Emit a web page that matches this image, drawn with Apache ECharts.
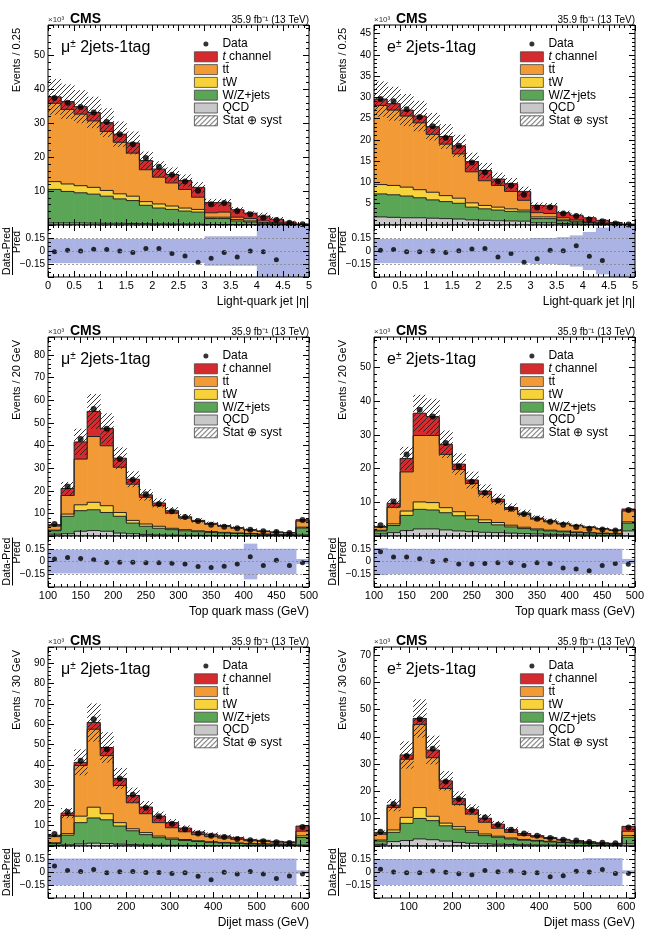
<!DOCTYPE html>
<html>
<head>
<meta charset="utf-8">
<script src="https://cdn.jsdelivr.net/npm/echarts@6/dist/echarts.min.js"></script>
<style>
  html, body { margin: 0; padding: 0; background: #fff; }
  #chart { width: 647px; height: 931px; }
</style>
</head>
<body>
<div id="chart"></div>
<script>
// bin edges
const etaEdges = [0, 0.25, 0.5, 0.75, 1, 1.25, 1.5, 1.75, 2, 2.25, 2.5, 2.75, 3, 3.25, 3.5, 3.75, 4, 4.25, 4.5, 4.75, 5];
const topEdges = [100, 120, 140, 160, 180, 200, 220, 240, 260, 280, 300, 320, 340, 360, 380, 400, 420, 440, 460, 480, 500];
const mjjEdges = [20, 50, 80, 110, 140, 170, 200, 230, 260, 290, 320, 350, 380, 410, 440, 470, 500, 530, 560, 590, 620];

// mu, light-quark jet |eta|  (x10^3 events)
const muEtaQCD = [0.6, 0.6, 0.6, 0.55, 0.5, 0.5, 0.45, 0.4, 0.35, 0.3, 0.3, 0.25, 0.15, 0.15, 0.1, 0.05, 0.05, 0.02, 0.01, 0];
const muEtaWZ = [9.9, 9.3, 8.9, 8.55, 8.0, 7.2, 6.75, 5.4, 4.65, 4.3, 3.8, 3.55, 1.75, 1.75, 1.1, 0.85, 0.45, 0.28, 0.14, 0.05];
const muEtaTW = [2.3, 2.2, 2.1, 2.0, 1.7, 1.5, 1.3, 1.1, 1.2, 1.0, 0.9, 0.8, 0.4, 0.4, 0.4, 0.3, 0.2, 0.1, 0.05, 0.02];
const muEtaTT = [23.1, 22.0, 21.1, 19.6, 17.4, 15.2, 12.7, 9.4, 7.9, 6.8, 5.5, 3.6, 1.3, 1.5, 0.7, 0.7, 0.5, 0.3, 0.2, 0.08];
const muEtaTch = [1.9, 2.3, 2.2, 2.5, 2.6, 2.4, 3.0, 2.7, 2.4, 2.5, 2.6, 2.9, 3.0, 2.8, 2.2, 1.6, 1.4, 1.0, 0.5, 0.15];
const muEtaData = [37.5, 36.1, 34.8, 33.2, 30.4, 26.8, 23.8, 19.8, 17.2, 14.8, 12.8, 10.1, 6.1, 6.5, 4.1, 3.2, 2.2, 1.5, 0.7, 0.2];
const muEtaUnc = [0.14, 0.14, 0.14, 0.14, 0.14, 0.14, 0.14, 0.14, 0.14, 0.14, 0.14, 0.14, 0.17, 0.17, 0.17, 0.17, 0.4, 0.4, 0.4, 0.4];
const muEtaRatio = [-0.01, 0.01, 0.0, 0.02, 0.016, 0.0, -0.016, 0.03, 0.03, -0.03, -0.057, -0.13, -0.085, -0.016, -0.07, 0.0, -0.01, -0.1, null, null];

// e, light-quark jet |eta|
const elEtaQCD = [1.9, 1.8, 1.7, 1.7, 1.6, 1.5, 1.4, 1.2, 1.1, 1.0, 0.95, 0.9, 0.5, 0.5, 0.35, 0.25, 0.15, 0.1, 0.05, 0.02];
const elEtaWZ = [5.4, 5.3, 5.1, 4.7, 4.3, 4.0, 3.7, 3.0, 2.7, 2.5, 2.25, 2.2, 1.0, 1.0, 0.65, 0.45, 0.35, 0.2, 0.05, 0.02];
const elEtaTW = [2.2, 2.2, 2.1, 1.9, 1.8, 1.4, 1.2, 1.0, 0.8, 0.7, 0.6, 0.4, 0.4, 0.4, 0.2, 0.2, 0.1, 0.05, 0.05, 0.01];
const elEtaTT = [18.6, 17.7, 16.7, 15.7, 13.6, 12.1, 10.4, 7.3, 5.8, 5.1, 4.1, 2.3, 1.0, 0.8, 0.5, 0.3, 0.1, 0.1, 0.05, 0.05];
const elEtaTch = [1.5, 1.5, 1.4, 1.6, 1.8, 1.8, 1.9, 2.4, 2.4, 1.5, 1.8, 2.1, 1.7, 1.8, 1.2, 1.1, 1.0, 0.65, 0.4, 0.1];
const elEtaData = [29.6, 29.1, 27.2, 25.4, 23.2, 20.5, 18.6, 14.7, 12.4, 10.2, 9.3, 7.1, 4.1, 4.2, 2.7, 2.1, 1.3, 0.9, 0.35, 0.1];
const elEtaUnc = [0.14, 0.14, 0.14, 0.14, 0.14, 0.14, 0.14, 0.14, 0.14, 0.14, 0.14, 0.14, 0.15, 0.15, 0.16, 0.18, 0.22, 0.27, 0.4, 0.4];
const elEtaRatio = [0.01, 0.016, -0.01, -0.01, 0.0, -0.016, 0.004, 0.024, 0.028, -0.07, -0.03, -0.13, -0.09, 0.01, 0.004, 0.06, -0.06, -0.11, null, null];

// mu, top quark mass
const muTopQCD = [0.8, 1.0, 2.1, 2.4, 2.1, 1.3, 1.0, 0.7, 0.5, 0.4, 0.35, 0.3, 0.25, 0.2, 0.15, 0.12, 0.1, 0.08, 0.06, 0.5];
const muTopWZ = [1.5, 7.7, 9.1, 9.2, 8.3, 7.4, 4.7, 3.6, 2.9, 2.4, 1.95, 1.6, 1.35, 1.1, 0.95, 0.78, 0.6, 0.52, 0.44, 3.0];
const muTopTW = [0.3, 1.0, 2.6, 3.3, 3.0, 1.7, 1.2, 1.0, 0.9, 0.6, 0.5, 0.4, 0.35, 0.3, 0.25, 0.2, 0.15, 0.12, 0.1, 0.4];
const muTopTT = [1.8, 8.2, 20.2, 29.1, 26.5, 20.0, 16.0, 11.8, 9.1, 6.7, 5.1, 4.1, 3.25, 2.7, 2.1, 1.5, 1.2, 0.93, 0.75, 2.7];
const muTopTch = [0.6, 3.1, 7.6, 11.1, 7.7, 4.0, 2.2, 1.1, 1.2, 1.1, 0.6, 0.5, 0.4, 0.3, 0.25, 0.2, 0.15, 0.15, 0.15, 0.6];
const muTopData = [5.3, 21.9, 42.9, 56.2, 47.4, 34.1, 24.9, 18.5, 14.1, 10.9, 8.4, 6.6, 5.0, 4.1, 3.4, 2.8, 2.1, 1.8, 1.3, 7.1];
const muTopUnc = [0.14, 0.14, 0.14, 0.14, 0.14, 0.14, 0.14, 0.14, 0.14, 0.14, 0.14, 0.14, 0.14, 0.14, 0.15, 0.21, 0.15, 0.15, 0.15, 0.03];
const muTopRatio = [0.03, 0.047, 0.035, 0.02, -0.012, -0.008, -0.008, -0.016, -0.016, -0.02, -0.028, -0.06, -0.07, -0.055, -0.03, 0.055, -0.047, 0.016, -0.047, -0.016];

// e, top quark mass
const elTopQCD = [0.6, 1.0, 1.6, 2.1, 2.1, 1.8, 1.5, 1.3, 1.1, 1.0, 0.85, 0.7, 0.6, 0.5, 0.4, 0.35, 0.3, 0.25, 0.2, 1.5];
const elTopWZ = [0.9, 2.1, 4.5, 5.8, 5.6, 5.1, 4.5, 3.7, 2.9, 2.3, 1.85, 1.5, 1.2, 1.0, 0.85, 0.7, 0.6, 0.5, 0.4, 2.3];
const elTopTW = [0.2, 0.5, 1.3, 2.2, 2.2, 1.5, 1.2, 1.0, 0.8, 0.7, 0.5, 0.4, 0.3, 0.25, 0.2, 0.15, 0.1, 0.1, 0.1, 0.4];
const elTopTT = [0.9, 4.9, 11.6, 19.7, 19.9, 15.8, 12.5, 9.6, 7.6, 6.2, 4.7, 3.8, 2.9, 2.45, 2.1, 1.8, 1.5, 1.2, 0.95, 3.2];
const elTopTch = [0.2, 1.2, 4.0, 6.6, 5.6, 3.0, 1.6, 1.0, 0.9, 0.7, 0.5, 0.4, 0.3, 0.3, 0.25, 0.2, 0.2, 0.15, 0.15, 0.6];
const elTopData = [3.2, 10.2, 24.2, 37.4, 35.4, 27.6, 20.7, 16.1, 12.8, 10.5, 8.1, 6.5, 5.1, 4.2, 3.3, 2.7, 2.1, 1.9, 1.6, 7.7];
const elTopUnc = [0.16, 0.15, 0.15, 0.15, 0.15, 0.15, 0.15, 0.15, 0.15, 0.15, 0.15, 0.15, 0.15, 0.15, 0.15, 0.15, 0.15, 0.15, 0.15, 0.03];
const elTopRatio = [0.116, 0.052, 0.052, 0.032, 0.0, 0.016, -0.028, -0.028, -0.024, -0.016, -0.016, -0.048, -0.016, -0.024, -0.076, -0.088, -0.108, -0.048, -0.024, -0.032];

// mu, dijet mass
const muMjjQCD = [0.3, 0.6, 1.0, 1.4, 1.2, 0.9, 0.7, 0.5, 0.4, 0.35, 0.3, 0.25, 0.2, 0.18, 0.15, 0.12, 0.1, 0.08, 0.07, 0.5];
const muMjjWZ = [0.9, 4.7, 10.5, 12.4, 11.7, 8.9, 6.8, 5.1, 3.7, 2.95, 2.4, 1.95, 1.6, 1.32, 1.15, 0.88, 0.8, 0.72, 0.63, 3.7];
const muMjjTW = [0.4, 0.8, 3.2, 5.3, 3.0, 1.7, 1.0, 1.0, 0.8, 0.6, 0.5, 0.4, 0.3, 0.25, 0.2, 0.2, 0.15, 0.15, 0.15, 0.8];
const muMjjTT = [3.0, 8.9, 24.9, 38.4, 28.6, 18.3, 12.8, 9.3, 6.6, 5.1, 3.8, 3.0, 2.5, 2.15, 1.8, 1.4, 1.25, 0.95, 0.8, 2.3];
const muMjjTch = [0.7, 1.2, 1.6, 3.3, 4.0, 3.5, 3.6, 3.3, 3.2, 2.5, 1.8, 1.3, 1.2, 1.0, 0.8, 0.5, 0.5, 0.4, 0.35, 2.5];
const muMjjData = [5.9, 16.7, 42.0, 62.4, 47.7, 33.3, 25.2, 18.8, 14.6, 11.0, 8.2, 6.1, 5.1, 4.4, 3.5, 2.8, 2.3, 1.8, 1.5, 9.3];
const muMjjUnc = [0.155, 0.155, 0.155, 0.155, 0.155, 0.155, 0.155, 0.155, 0.155, 0.155, 0.155, 0.155, 0.155, 0.155, 0.155, 0.155, 0.155, 0.155, 0.155, 0.02];
const muMjjRatio = [0.068, 0.018, 0.006, 0.03, -0.01, 0.002, 0.006, -0.006, -0.006, -0.018, -0.01, -0.05, -0.088, -0.002, -0.022, 0.006, -0.022, -0.076, -0.047, -0.022];

// e, dijet mass
const elMjjQCD = [0.6, 1.6, 2.0, 2.6, 2.3, 1.8, 1.3, 1.0, 0.8, 0.65, 0.55, 0.45, 0.4, 0.35, 0.3, 0.25, 0.2, 0.15, 0.12, 0.8];
const elMjjWZ = [1.2, 3.4, 6.3, 7.5, 7.0, 5.6, 4.9, 4.0, 3.0, 2.55, 2.05, 1.65, 1.4, 1.15, 0.95, 0.8, 0.65, 0.55, 0.48, 2.4];
const elMjjTW = [0.4, 0.9, 2.2, 4.0, 1.6, 1.0, 0.9, 0.6, 0.6, 0.4, 0.35, 0.3, 0.25, 0.2, 0.15, 0.15, 0.1, 0.1, 0.08, 0.6];
const elMjjTT = [2.1, 8.2, 21.3, 30.5, 21.5, 12.7, 8.1, 6.1, 4.3, 2.9, 2.05, 1.5, 1.25, 1.05, 0.75, 0.5, 0.4, 0.2, 0.17, 1.6];
const elMjjTch = [0.7, 0.9, 1.6, 2.2, 2.8, 2.8, 2.2, 1.6, 1.5, 1.5, 1.0, 0.7, 0.5, 0.35, 0.3, 0.25, 0.2, 0.15, 0.15, 1.8];
const elMjjData = [5.2, 15.4, 33.0, 46.5, 35.7, 23.7, 17.2, 13.2, 10.5, 7.8, 6.0, 4.6, 3.8, 2.9, 2.3, 2.0, 1.5, 1.2, 1.0, 6.8];
const elMjjUnc = [0.15, 0.15, 0.15, 0.15, 0.15, 0.15, 0.15, 0.15, 0.15, 0.15, 0.15, 0.15, 0.15, 0.15, 0.15, 0.15, 0.16, 0.16, 0.16, 0.02];
const elMjjRatio = [0.032, 0.0, -0.008, -0.008, 0.012, -0.004, -0.02, -0.032, 0.016, 0.004, 0.012, -0.008, -0.008, -0.056, -0.044, 0.008, 0.0, 0.028, -0.016, -0.016];

const FONT = '"Liberation Sans", Arial, Helvetica, sans-serif';
const procNames = ['QCD', 'W/Z+jets', 'tW', 'tt\u0304', 't channel'];
const procColors = ['#c8c8c8', '#5aa556', '#f7d23a', '#f29a36', '#d52b2e'];
const BAND = '#aab3e3';

// hatch pattern for stat+syst
function makeHatch() {
  const c = document.createElement('canvas');
  c.width = 5; c.height = 5;
  const g = c.getContext('2d');
  g.strokeStyle = '#222';
  g.lineWidth = 0.9;
  g.beginPath();
  g.moveTo(0, 5); g.lineTo(5, 0);
  g.moveTo(-1, 1); g.lineTo(1, -1);
  g.moveTo(4, 6); g.lineTo(6, 4);
  g.stroke();
  return c;
}
const hatch = { image: makeHatch(), repeat: 'repeat' };

const panels = [
  { edges: etaEdges, xmin: 0, xmax: 5, xint: 0.5, xlab: 0.5, ymax: 59, yint: 10, lep: '\u03bc',
    ytitle: 'Events / 0.25', xtitle: 'Light-quark jet |\u03b7|',
    comps: [muEtaQCD, muEtaWZ, muEtaTW, muEtaTT, muEtaTch], data: muEtaData, unc: muEtaUnc, ratio: muEtaRatio },
  { edges: etaEdges, xmin: 0, xmax: 5, xint: 0.5, xlab: 0.5, ymax: 47, yint: 5, lep: 'e',
    ytitle: 'Events / 0.25', xtitle: 'Light-quark jet |\u03b7|',
    comps: [elEtaQCD, elEtaWZ, elEtaTW, elEtaTT, elEtaTch], data: elEtaData, unc: elEtaUnc, ratio: elEtaRatio },
  { edges: topEdges, xmin: 100, xmax: 500, xint: 50, xlab: 50, ymax: 88, yint: 10, lep: '\u03bc',
    ytitle: 'Events / 20 GeV', xtitle: 'Top quark mass (GeV)',
    comps: [muTopQCD, muTopWZ, muTopTW, muTopTT, muTopTch], data: muTopData, unc: muTopUnc, ratio: muTopRatio },
  { edges: topEdges, xmin: 100, xmax: 500, xint: 50, xlab: 50, ymax: 59, yint: 10, lep: 'e',
    ytitle: 'Events / 20 GeV', xtitle: 'Top quark mass (GeV)',
    comps: [elTopQCD, elTopWZ, elTopTW, elTopTT, elTopTch], data: elTopData, unc: elTopUnc, ratio: elTopRatio },
  { edges: mjjEdges, xmin: 20, xmax: 620, xint: null, xlab: 100, ymax: 98, yint: 10, lep: '\u03bc',
    ytitle: 'Events / 30 GeV', xtitle: 'Dijet mass (GeV)',
    comps: [muMjjQCD, muMjjWZ, muMjjTW, muMjjTT, muMjjTch], data: muMjjData, unc: muMjjUnc, ratio: muMjjRatio },
  { edges: mjjEdges, xmin: 20, xmax: 620, xint: null, xlab: 100, ymax: 73, yint: 10, lep: 'e',
    ytitle: 'Events / 30 GeV', xtitle: 'Dijet mass (GeV)',
    comps: [elMjjQCD, elMjjWZ, elMjjTW, elMjjTT, elMjjTch], data: elMjjData, unc: elMjjUnc, ratio: elMjjRatio }
];

const colLeft = [48, 374];
const plotW = 261;
const rowTop = [25, 337, 647];
const mainH = [200, 199, 199];
const ratioH = [52, 51, 52];

function isMult(v, step) {
  const r = v / step;
  return Math.abs(r - Math.round(r)) < 1e-6;
}

function stackRender(color) {
  return function (params, api) {
    const a = api.coord([api.value(0), api.value(3)]);
    const b = api.coord([api.value(1), api.value(2)]);
    const n = api.coord([api.value(1), api.value(4)]);
    return {
      type: 'group',
      children: [
        { type: 'rect', z2: 1, shape: { x: a[0], y: a[1], width: b[0] - a[0] + 0.6, height: b[1] - a[1] },
          style: { fill: color } },
        { type: 'polyline', z2: 20, shape: { points: [[a[0], a[1]], [b[0], a[1]], [b[0], n[1]]] },
          style: { stroke: '#222', lineWidth: 1, fill: null } }
      ]
    };
  };
}

function boxRender(fill, z2) {
  return function (params, api) {
    const a = api.coord([api.value(0), api.value(3)]);
    const b = api.coord([api.value(1), api.value(2)]);
    return { type: 'rect', z2: z2, shape: { x: a[0], y: a[1], width: b[0] - a[0] + 0.5, height: b[1] - a[1] },
      style: { fill: fill } };
  };
}

const grid = [], xAxis = [], yAxis = [], series = [], legend = [], elements = [];
const DOT = 'path://M0,0M23,10M14,5A2.5,2.5,0,1,1,9,5A2.5,2.5,0,1,1,14,5Z';

panels.forEach((p, k) => {
  const col = k % 2, row = Math.floor(k / 2);
  const L = colLeft[col], T = rowTop[row], H = mainH[row], RH = ratioH[row];
  const RT = T + H, RB = RT + RH;
  const gi = 2 * k, ai = 4 * k;

  grid.push({ left: L, top: T, width: plotW, height: H, show: true, borderColor: '#000', borderWidth: 1,
    backgroundColor: 'transparent', z: 10 });
  grid.push({ left: L, top: RT, width: plotW, height: RH, show: true, borderColor: '#000', borderWidth: 1,
    backgroundColor: 'transparent', z: 10 });

  const tick = { inside: true, length: 6, lineStyle: { color: '#000', width: 1 } };
  const minor = { show: true, splitNumber: 5, length: 3, lineStyle: { color: '#000', width: 1 } };
  const xBase = {
    type: 'value', min: p.xmin, max: p.xmax, z: 10,
    axisLine: { show: false, onZero: false }, axisTick: tick, minorTick: minor, splitLine: { show: false }
  };
  if (p.xint) xBase.interval = p.xint; else xBase.splitNumber = 6;
  const xLabel = { show: true, margin: 3, fontSize: 11, color: '#000', fontFamily: FONT,
    formatter: v => isMult(v, p.xlab) ? String(+v.toFixed(2)) : '' };
  xAxis.push(Object.assign({}, xBase, { gridIndex: gi, position: 'bottom', axisLabel: { show: false } }));
  xAxis.push(Object.assign({}, xBase, { gridIndex: gi, position: 'top', axisLabel: { show: false } }));
  xAxis.push(Object.assign({}, xBase, { gridIndex: gi + 1, position: 'bottom', axisLabel: xLabel }));
  xAxis.push(Object.assign({}, xBase, { gridIndex: gi + 1, position: 'top', axisLabel: { show: false } }));

  const yMain = {
    type: 'value', min: 0, max: p.ymax, interval: p.yint, gridIndex: gi, z: 10,
    axisLine: { show: false, onZero: false }, axisTick: tick, minorTick: minor, splitLine: { show: false }
  };
  yAxis.push(Object.assign({}, yMain, { position: 'left', axisLabel: { show: true, margin: 3, fontSize: 10,
    color: '#000', fontFamily: FONT, formatter: v => (v > 0 && isMult(v, p.yint)) ? String(v) : '' } }));
  yAxis.push(Object.assign({}, yMain, { position: 'right', axisLabel: { show: false } }));

  const yRat = {
    type: 'value', min: -0.3, max: 0.3, interval: 0.15, gridIndex: gi + 1, z: 10,
    axisLine: { show: false, onZero: false }, axisTick: tick,
    minorTick: { show: true, splitNumber: 3, length: 3, lineStyle: { color: '#000', width: 1 } }
  };
  yAxis.push(Object.assign({}, yRat, { position: 'left',
    splitLine: { show: true, lineStyle: { color: '#888', width: 0.8, type: [2, 2] } },
    axisLabel: { show: true, margin: 3, fontSize: 10, color: '#000', fontFamily: FONT,
      formatter: v => {
        if (Math.abs(Math.abs(v) - 0.3) < 1e-6) return '';
        if (Math.abs(v) < 1e-6) return '0';
        return v < 0 ? '\u2212' + (-v).toFixed(2) : v.toFixed(2);
      } } }));
  yAxis.push(Object.assign({}, yRat, { position: 'right', splitLine: { show: false }, axisLabel: { show: false } }));

  // stacked backgrounds + signal
  const n = p.data.length;
  let base = new Array(n).fill(0);
  p.comps.forEach((vals, c) => {
    const tops = vals.map((v, i) => base[i] + v);
    const rows = vals.map((v, i) => [p.edges[i], p.edges[i + 1], base[i], tops[i], i < n - 1 ? tops[i + 1] : 0]);
    series.push({
      type: 'custom', name: procNames[c], xAxisIndex: ai, yAxisIndex: ai, silent: true,
      itemStyle: { color: procColors[c] }, renderItem: stackRender(procColors[c]),
      encode: { x: [0, 1], y: [2, 3] }, data: rows
    });
    base = tops;
  });
  series.push({
    type: 'custom', name: 'Stat \u2295 syst', xAxisIndex: ai, yAxisIndex: ai, silent: true,
    itemStyle: { color: hatch }, renderItem: boxRender(hatch, 10),
    encode: { x: [0, 1], y: [2, 3] },
    data: base.map((t, i) => [p.edges[i], p.edges[i + 1], t * (1 - p.unc[i]), t * (1 + p.unc[i])])
  });
  series.push({
    type: 'scatter', name: 'Data', xAxisIndex: ai, yAxisIndex: ai, silent: true, z: 5,
    symbol: 'circle', symbolSize: 6, itemStyle: { color: '#000' },
    data: p.data.map((v, i) => [(p.edges[i] + p.edges[i + 1]) / 2, v])
  });

  // ratio panel
  series.push({
    type: 'custom', xAxisIndex: ai + 2, yAxisIndex: ai + 2, silent: true, clip: true,
    renderItem: boxRender(BAND, 1), encode: { x: [0, 1], y: [2, 3] },
    data: p.unc.map((u, i) => [p.edges[i], p.edges[i + 1], -u, u])
  });
  series.push({
    type: 'scatter', xAxisIndex: ai + 2, yAxisIndex: ai + 2, silent: true, z: 5,
    symbol: 'circle', symbolSize: 5, itemStyle: { color: '#000' },
    data: p.ratio.map((r, i) => [(p.edges[i] + p.edges[i + 1]) / 2, r]).filter(d => d[1] !== null)
  });

  legend.push({
    orient: 'vertical', left: L + 146, top: T + 13, padding: 0,
    itemWidth: 23, itemHeight: 10, itemGap: 0.8, icon: 'rect', selectedMode: false,
    itemStyle: { borderColor: '#444', borderWidth: 0.8 },
    textStyle: { fontFamily: FONT, fontSize: 12, lineHeight: 12, color: '#000',
      rich: { i: { fontFamily: FONT, fontSize: 12, lineHeight: 12, fontStyle: 'italic', color: '#000' } } },
    formatter: name => name === 't channel' ? '{i|t} channel' : name,
    data: [{ name: 'Data', icon: DOT, itemStyle: { borderWidth: 0 } },
      't channel', 'tt\u0304', 'tW', 'W/Z+jets', 'QCD', 'Stat \u2295 syst']
  });

  // texts
  elements.push(
    { type: 'text', x: L, y: T - 1, style: { text: '\u00d710\u00b3', font: '8px ' + FONT, fill: '#333', verticalAlign: 'bottom' } },
    { type: 'text', x: L + 22, y: T + 1, style: { text: 'CMS', font: 'bold 14px ' + FONT, fill: '#000', verticalAlign: 'bottom' } },
    { type: 'text', x: L + plotW, y: T, style: { text: '35.9 fb\u207b\u00b9 (13 TeV)', font: '10px ' + FONT, fill: '#000',
      align: 'right', verticalAlign: 'bottom' } },
    { type: 'text', x: L + 13, y: T + 32, z: 20, style: {
      text: '{a|' + p.lep + '}{s|\u00b1}{a| 2jets-1tag}', verticalAlign: 'bottom',
      rich: {
        a: { fontFamily: FONT, fontSize: 16, lineHeight: 18, fill: '#000' },
        s: { fontFamily: FONT, fontSize: 10, lineHeight: 18, fill: '#000', verticalAlign: 'top' }
      } } },
    { type: 'text', x: L - 31, y: T + 3, rotation: Math.PI / 2, style: { text: p.ytitle, font: '11px ' + FONT,
      fill: '#000', align: 'right', verticalAlign: 'middle' } },
    { type: 'text', x: L - 40.5, y: (RT + RB) / 2, rotation: Math.PI / 2, style: { text: 'Data-Pred', font: '10.5px ' + FONT,
      fill: '#000', align: 'center', verticalAlign: 'middle' } },
    { type: 'line', shape: { x1: L - 35.5, y1: (RT + RB) / 2 - 24, x2: L - 35.5, y2: (RT + RB) / 2 + 24 },
      style: { stroke: '#000', lineWidth: 1 } },
    { type: 'text', x: L - 30.5, y: (RT + RB) / 2 - 9, rotation: Math.PI / 2, style: { text: 'Pred', font: '10.5px ' + FONT,
      fill: '#000', align: 'center', verticalAlign: 'middle' } },
    { type: 'text', x: L + plotW, y: RB + 25, style: { text: p.xtitle, font: '12px ' + FONT, fill: '#000',
      align: 'right', verticalAlign: 'middle' } }
  );
});

const chart = echarts.init(document.getElementById('chart'), null, { renderer: 'canvas' });
chart.setOption({
  animation: false,
  backgroundColor: '#fff',
  textStyle: { fontFamily: FONT },
  grid: grid,
  xAxis: xAxis,
  yAxis: yAxis,
  legend: legend,
  series: series,
  graphic: { elements: elements }
});
</script>
</body>
</html>
